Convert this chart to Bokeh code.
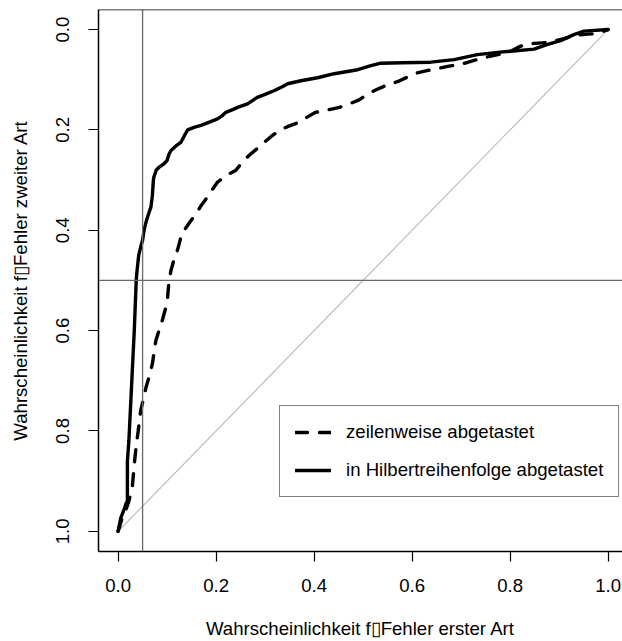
from bokeh.plotting import figure
from bokeh.models import Range1d, Span, Legend, LegendItem, FixedTicker
from bokeh.embed import file_html
from bokeh.resources import INLINE

# ---- data ----
hilbert_fpr = [0.0, 0.004, 0.006, 0.013, 0.016, 0.019, 0.019, 0.022, 0.026, 0.030, 0.033, 0.035,
               0.037, 0.038, 0.042, 0.047, 0.050, 0.053, 0.058, 0.063, 0.067, 0.070, 0.072, 0.073,
               0.078, 0.084, 0.093, 0.100, 0.104, 0.108, 0.118, 0.128, 0.135, 0.142, 0.155, 0.169,
               0.185, 0.203, 0.212, 0.220, 0.235, 0.244, 0.264, 0.275, 0.284, 0.300, 0.318, 0.335,
               0.346, 0.373, 0.407, 0.441, 0.465, 0.489, 0.516, 0.536, 0.580, 0.638, 0.686, 0.733,
               0.780, 0.849, 0.875, 0.903, 0.930, 0.951, 1.0]
hilbert_fnr = [1.0, 0.980, 0.972, 0.955, 0.945, 0.940, 0.860, 0.820, 0.740, 0.660, 0.600, 0.550,
               0.500, 0.487, 0.450, 0.430, 0.420, 0.400, 0.380, 0.365, 0.354, 0.330, 0.300, 0.294,
               0.280, 0.274, 0.268, 0.261, 0.248, 0.241, 0.232, 0.225, 0.212, 0.200, 0.195, 0.191,
               0.185, 0.178, 0.172, 0.165, 0.159, 0.155, 0.148, 0.141, 0.135, 0.129, 0.122, 0.114,
               0.108, 0.102, 0.096, 0.088, 0.084, 0.080, 0.072, 0.067, 0.066, 0.065, 0.060, 0.050,
               0.045, 0.039, 0.030, 0.022, 0.010, 0.003, 0.0]

zeilen_fpr = [0.0, 0.008, 0.015, 0.022, 0.029, 0.033, 0.037, 0.041, 0.046, 0.052, 0.057, 0.064,
              0.070, 0.077, 0.085, 0.091, 0.097, 0.101, 0.104, 0.108, 0.115, 0.121, 0.131, 0.135,
              0.147, 0.159, 0.170, 0.182, 0.193, 0.203, 0.222, 0.240, 0.253, 0.267, 0.283, 0.298,
              0.314, 0.329, 0.347, 0.366, 0.385, 0.403, 0.428, 0.452, 0.472, 0.492, 0.510, 0.529,
              0.550, 0.570, 0.590, 0.608, 0.630, 0.655, 0.675, 0.700, 0.725, 0.747, 0.775, 0.800,
              0.815, 0.832, 0.858, 0.883, 0.910, 0.938, 0.958, 0.978, 1.0]
zeilen_fnr = [1.0, 0.975, 0.960, 0.940, 0.912, 0.866, 0.830, 0.800, 0.760, 0.735, 0.713, 0.690,
              0.666, 0.620, 0.595, 0.577, 0.555, 0.534, 0.500, 0.480, 0.455, 0.440, 0.404, 0.400,
              0.383, 0.367, 0.350, 0.334, 0.318, 0.304, 0.290, 0.281, 0.265, 0.251, 0.238, 0.225,
              0.212, 0.201, 0.193, 0.186, 0.175, 0.165, 0.160, 0.155, 0.148, 0.140, 0.128, 0.119,
              0.110, 0.104, 0.095, 0.087, 0.082, 0.077, 0.073, 0.069, 0.062, 0.056, 0.050, 0.044,
              0.036, 0.029, 0.027, 0.025, 0.018, 0.011, 0.009, 0.008, 0.0]

diag_x = [0.0, 1.0]
diag_y = [1.0, 0.0]
alpha_level = 0.05
beta_level = 0.5
ticks = [0.0, 0.2, 0.4, 0.6, 0.8, 1.0]
tick_labels = {0.0: "0.0", 0.2: "0.2", 0.4: "0.4", 0.6: "0.6", 0.8: "0.8", 1.0: "1.0"}

label_zeilen = "zeilenweise abgetastet"
label_hilbert = "in Hilbertreihenfolge abgetastet"
xlabel = "Wahrscheinlichkeit f\u25afFehler erster Art"
ylabel = "Wahrscheinlichkeit f\u25afFehler zweiter Art"

FONT = "Liberation Sans"
FS = "18.6px"

p = figure(width=622, height=641, output_backend="svg", toolbar_location=None,
           x_range=Range1d(-0.04, 1.0294), y_range=Range1d(1.0403, -0.04),
           min_border_left=98, min_border_right=0, min_border_top=9, min_border_bottom=90)
p.outline_line_color = None
p.grid.visible = False
p.background_fill_color = "white"
p.border_fill_color = "white"

# reference lines
p.line(diag_x, diag_y, line_color="#bdbdbd", line_width=1.2)
p.add_layout(Span(location=alpha_level, dimension="height", line_color="#6a6a6a", line_width=1.3))
p.add_layout(Span(location=beta_level, dimension="width", line_color="#6a6a6a", line_width=1.3))
p.add_layout(Span(location=-0.04, dimension="width", line_color="black", line_width=1.5))

r_z = p.line(zeilen_fpr, zeilen_fnr, line_color="black", line_width=3.4, line_dash="12 12",
             line_cap="round", line_join="round")
r_h = p.line(hilbert_fpr, hilbert_fnr, line_color="black", line_width=3.4,
             line_cap="round", line_join="round")

for ax in (p.xaxis[0], p.yaxis[0]):
    ax.ticker = FixedTicker(ticks=ticks)
    ax.major_label_overrides = tick_labels
    ax.minor_tick_line_color = None
    ax.major_tick_in = 0
    ax.major_tick_out = 10
    ax.major_tick_line_width = 1.2
    ax.axis_line_width = 1.5
    ax.major_label_text_font = FONT
    ax.major_label_text_font_size = FS
    ax.major_label_text_color = "black"
    ax.axis_label_text_font = FONT
    ax.axis_label_text_font_size = FS
    ax.axis_label_text_font_style = "normal"
    ax.axis_label_text_color = "black"

p.xaxis.axis_label = xlabel
p.yaxis.axis_label = ylabel
p.xaxis.major_label_standoff = 17
p.yaxis.major_label_standoff = 19
p.yaxis.major_label_orientation = "vertical"
p.xaxis.axis_label_standoff = 23
p.yaxis.axis_label_standoff = 23

legend = Legend(items=[LegendItem(label=label_zeilen, renderers=[r_z]),
                       LegendItem(label=label_hilbert, renderers=[r_h])],
                location=(181, 54), padding=15, spacing=16, glyph_width=36, glyph_height=20,
                label_height=20, label_standoff=15, label_text_font=FONT,
                label_text_font_size=FS, label_text_color="black",
                border_line_color="black", border_line_width=1.3,
                background_fill_alpha=1.0, margin=0)
p.add_layout(legend, "center")

open("out.html", "w").write(file_html(p, INLINE))
